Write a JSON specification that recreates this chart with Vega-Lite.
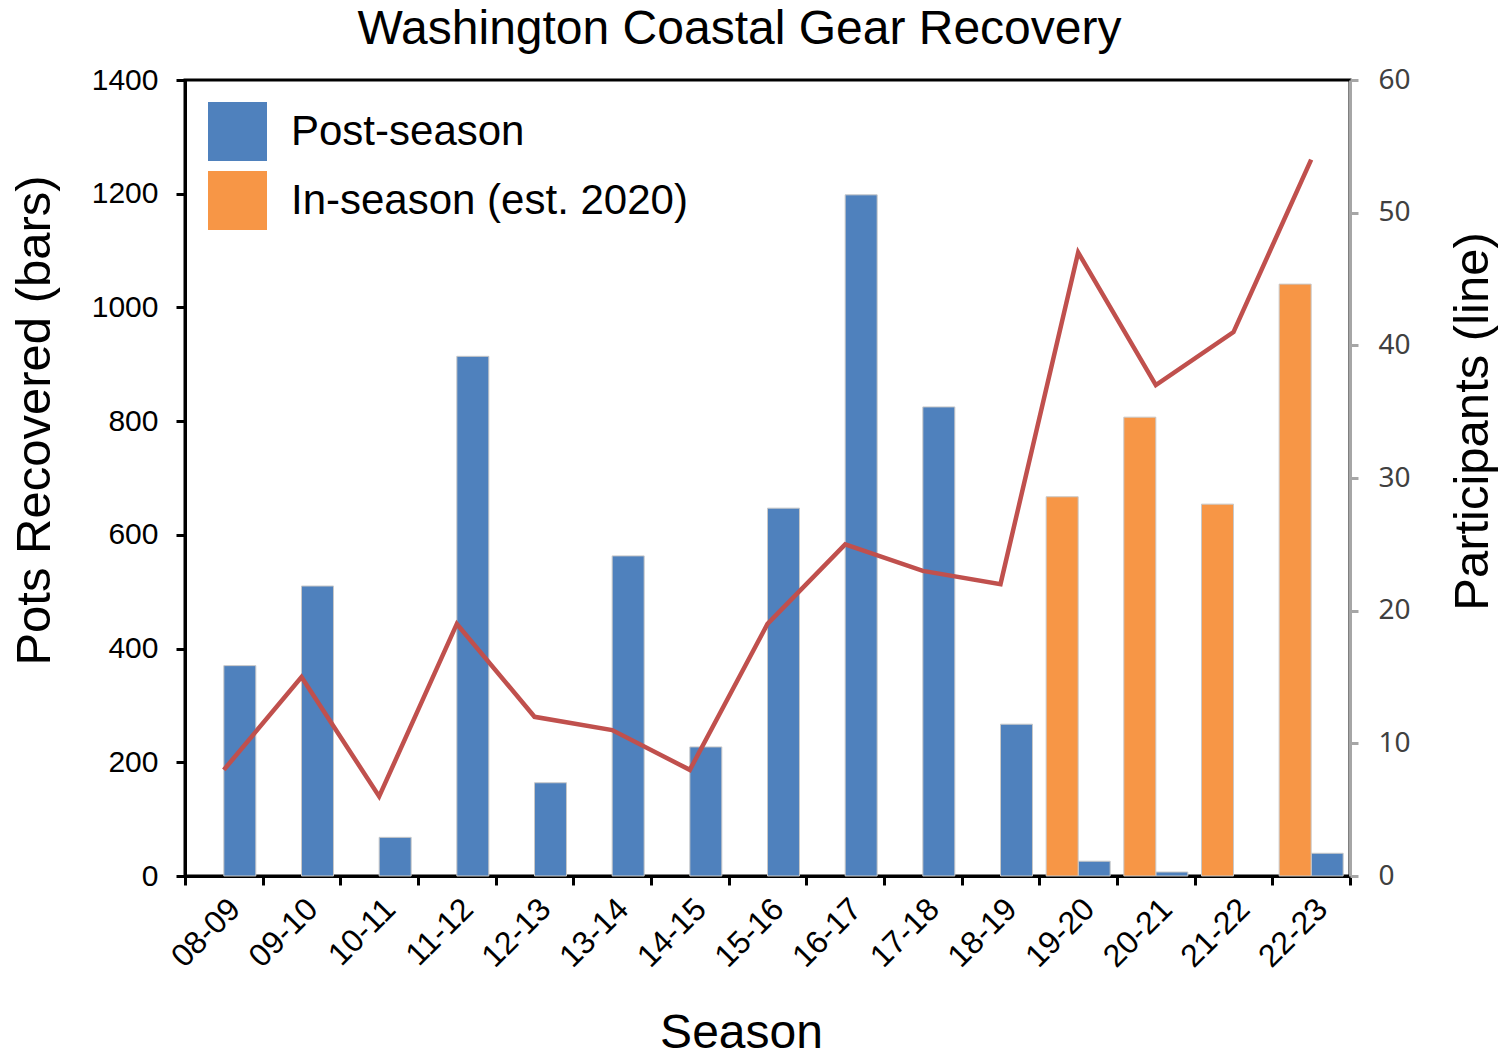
{
  "$schema": "https://vega.github.io/schema/vega-lite/v6.json",
  "width": 1165,
  "height": 796,
  "autosize": "none",
  "padding": {"left": 185, "top": 80, "right": 153, "bottom": 183},
  "background": "white",
  "config": {
    "view": {"stroke": "black", "strokeWidth": 3},
    "font": "Liberation Sans"
  },
  "title": {
    "text": "Washington Coastal Gear Recovery",
    "fontSize": 48,
    "fontWeight": "normal",
    "font": "Liberation Sans",
    "color": "black",
    "dx": -28,
    "offset": 11
  },
  "datasets": {
    "pots": [
      {"season": "08-09", "type": "Post-season", "pots": 370},
      {"season": "09-10", "type": "Post-season", "pots": 510},
      {"season": "10-11", "type": "Post-season", "pots": 68},
      {"season": "11-12", "type": "Post-season", "pots": 914},
      {"season": "12-13", "type": "Post-season", "pots": 164},
      {"season": "13-14", "type": "Post-season", "pots": 563},
      {"season": "14-15", "type": "Post-season", "pots": 227},
      {"season": "15-16", "type": "Post-season", "pots": 647},
      {"season": "16-17", "type": "Post-season", "pots": 1198},
      {"season": "17-18", "type": "Post-season", "pots": 825},
      {"season": "18-19", "type": "Post-season", "pots": 267},
      {"season": "19-20", "type": "Post-season", "pots": 26},
      {"season": "20-21", "type": "Post-season", "pots": 7},
      {"season": "22-23", "type": "Post-season", "pots": 40},
      {"season": "19-20", "type": "In-season (est. 2020)", "pots": 667},
      {"season": "20-21", "type": "In-season (est. 2020)", "pots": 807},
      {"season": "21-22", "type": "In-season (est. 2020)", "pots": 654},
      {"season": "22-23", "type": "In-season (est. 2020)", "pots": 1041}
    ],
    "participants": [
      {"season": "08-09", "participants": 8},
      {"season": "09-10", "participants": 15},
      {"season": "10-11", "participants": 6},
      {"season": "11-12", "participants": 19},
      {"season": "12-13", "participants": 12},
      {"season": "13-14", "participants": 11},
      {"season": "14-15", "participants": 8},
      {"season": "15-16", "participants": 19},
      {"season": "16-17", "participants": 25},
      {"season": "17-18", "participants": 23},
      {"season": "18-19", "participants": 22},
      {"season": "19-20", "participants": 47},
      {"season": "20-21", "participants": 37},
      {"season": "21-22", "participants": 41},
      {"season": "22-23", "participants": 54}
    ]
  },
  "encoding": {
    "x": {
      "field": "season",
      "type": "nominal",
      "scale": {
        "domain": ["08-09", "09-10", "10-11", "11-12", "12-13", "13-14", "14-15", "15-16", "16-17", "17-18", "18-19", "19-20", "20-21", "21-22", "22-23"],
        "paddingInner": 0,
        "paddingOuter": 0
      },
      "axis": {
        "title": "Season",
        "titleFontSize": 48,
        "titleFontWeight": "normal",
        "titleColor": "black",
        "titlePadding": 37,
        "titleX": 556,
        "labelAngle": -45,
        "labelFontSize": 32,
        "labelColor": "black",
        "labelPadding": 8,
        "domainColor": "black",
        "domainWidth": 3,
        "tickColor": "black",
        "tickWidth": 3,
        "tickSize": 9,
        "tickBand": "extent"
      }
    }
  },
  "layer": [
    {
      "data": {"name": "pots"},
      "mark": {"type": "bar", "stroke": "#c8c8c8", "strokeWidth": 1},
      "encoding": {
        "xOffset": {
          "field": "type",
          "type": "nominal",
          "scale": {"domain": ["In-season (est. 2020)", "Post-season"], "paddingInner": 0, "paddingOuter": 0.2136}
        },
        "y": {
          "field": "pots",
          "type": "quantitative",
          "scale": {"domain": [0, 1400], "nice": false},
          "axis": {
            "orient": "left",
            "title": "Pots Recovered (bars)",
            "titleFontSize": 49,
            "titleFontWeight": "normal",
            "titleColor": "black",
            "titlePadding": 32,
            "titleY": 340,
            "values": [0, 200, 400, 600, 800, 1000, 1200, 1400],
            "format": "d",
            "labelFontSize": 30,
            "labelColor": "black",
            "labelPadding": 18,
            "domainColor": "black",
            "domainWidth": 3,
            "tickColor": "black",
            "tickWidth": 3,
            "tickSize": 9,
            "grid": false
          }
        },
        "color": {
          "field": "type",
          "type": "nominal",
          "scale": {"domain": ["Post-season", "In-season (est. 2020)"], "range": ["#4F81BD", "#F79646"]},
          "legend": {
            "orient": "none",
            "legendX": 23,
            "legendY": 22,
            "title": null,
            "symbolType": "square",
            "symbolSize": 3481,
            "symbolStrokeWidth": 0,
            "symbolOpacity": 1,
            "labelFontSize": 42,
            "labelColor": "black",
            "labelFont": "Liberation Sans",
            "labelOffset": 24,
            "rowPadding": 10,
            "labelLimit": 600
          }
        }
      }
    },
    {
      "data": {"name": "participants"},
      "mark": {"type": "line", "color": "#C0504D", "strokeWidth": 4.5},
      "encoding": {
        "y": {
          "field": "participants",
          "type": "quantitative",
          "scale": {"domain": [0, 60], "nice": false},
          "axis": {
            "orient": "right",
            "title": "Participants (line)",
            "titleFontSize": 49,
            "titleFontWeight": "normal",
            "titleColor": "black",
            "titleAngle": -90,
            "titleBaseline": "top",
            "titlePadding": 38,
            "titleY": 341,
            "values": [0, 10, 20, 30, 40, 50, 60],
            "labelFontSize": 28,
            "labelFont": "Noto Sans",
            "labelColor": "#404040",
            "labelPadding": 20,
            "domainColor": "#A6A6A6",
            "domainWidth": 3,
            "tickColor": "#A6A6A6",
            "tickWidth": 3,
            "tickSize": 8,
            "grid": false
          }
        }
      }
    }
  ],
  "resolve": {"scale": {"y": "independent"}}
}
